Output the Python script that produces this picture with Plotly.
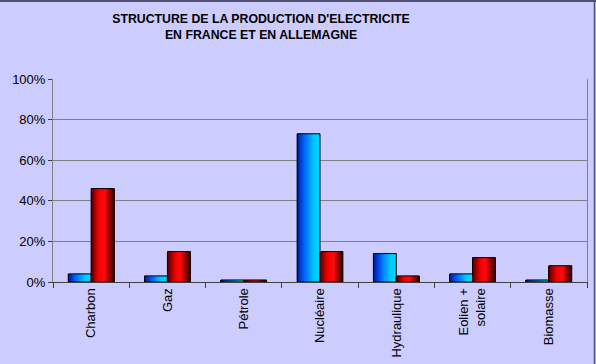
import plotly.graph_objects as go

categories = ["Charbon", "Gaz", "Pétrole", "Nucléaire", "Hydraulique", "Eolien +<br>solaire", "Biomasse"]
france = [0.04, 0.03, 0.01, 0.73, 0.14, 0.04, 0.01]
allemagne = [0.46, 0.15, 0.01, 0.15, 0.03, 0.12, 0.08]
y_ticks = [0, 0.2, 0.4, 0.6, 0.8, 1.0]
y_tick_labels = ["0%", "20%", "40%", "60%", "80%", "100%"]

W, H = 596, 364
ml, mr, mt, mb = 53, 9, 79, 82
pw, ph = W - ml - mr, H - mt - mb

BAR_W = 0.30
N = 24


def lerp(stops, t):
    for (t0, c0), (t1, c1) in zip(stops, stops[1:]):
        if t0 <= t <= t1:
            f = (t - t0) / (t1 - t0) if t1 > t0 else 0
            c = [round(a + (b - a) * f) for a, b in zip(c0, c1)]
            return "rgb(%d,%d,%d)" % tuple(c)
    return "rgb(%d,%d,%d)" % stops[-1][1]


blue_stops = [(0.0, (0, 20, 150)), (0.35, (0, 100, 255)), (0.75, (0, 200, 255)), (1.0, (0, 215, 255))]
red_stops = [(0.0, (70, 0, 0)), (0.35, (240, 0, 0)), (0.6, (255, 10, 10)), (1.0, (60, 0, 0))]

fig = go.Figure()
for series, base_off, stops in [(france, -BAR_W, blue_stops), (allemagne, 0.0, red_stops)]:
    for i in range(N):
        t = (i + 0.5) / N
        fig.add_trace(go.Bar(
            x=categories, y=series,
            width=BAR_W / N + (0.01 if i < N - 1 else 0), offset=base_off + i * BAR_W / N,
            marker=dict(color=lerp(stops, t), line=dict(width=0)),
            hoverinfo="skip", showlegend=False))
    fig.add_trace(go.Bar(
        x=categories, y=series, width=BAR_W, offset=base_off,
        marker=dict(color="rgba(0,0,0,0)", line=dict(color="#000000", width=1)),
        showlegend=False))

fig.update_layout(
    width=W, height=H,
    margin=dict(l=ml, r=mr, t=mt, b=mb),
    paper_bgcolor="#CCCCFF", plot_bgcolor="#CCCCFF",
    barmode="overlay",
    showlegend=False,
    font=dict(family="Liberation Sans, Arial", size=13, color="#000000"),
    title=dict(text="<b>STRUCTURE DE LA PRODUCTION D'ELECTRICITE<br>EN FRANCE ET EN ALLEMAGNE</b>",
               xref="container", x=261 / W, xanchor="center", y=0.937, yanchor="top",
               font=dict(size=12.3, color="#000000")),
    xaxis=dict(tickangle=-90, tickson="boundaries", ticks="outside", ticklen=5,
               tickcolor="#404040", showline=True, linecolor="#404040", linewidth=1,
               mirror=False, showgrid=False, tickfont=dict(size=13), automargin=False),
    yaxis=dict(range=[0, 1.0], tickvals=y_ticks, ticktext=y_tick_labels,
               ticks="outside", ticklen=4, tickcolor="#404040",
               showline=True, linecolor="#808080", mirror=True,
               showgrid=True, gridcolor="#808080", gridwidth=1,
               zeroline=False, tickfont=dict(size=13), automargin=False),
    shapes=[
        dict(type="line", xref="paper", yref="paper",
             x0=-ml / pw, x1=1 + mr / pw, y0=1 + (mt - 1) / ph, y1=1 + (mt - 1) / ph,
             line=dict(color="#505070", width=2), layer="above"),
        dict(type="line", xref="paper", yref="paper",
             x0=1 + (mr - 1.5) / pw, x1=1 + (mr - 1.5) / pw, y0=-mb / ph, y1=1 + mt / ph,
             line=dict(color="#505070", width=1.5), layer="above"),
    ],
)

fig.write_html("out.html", config={"displayModeBar": False},
               post_script="document.body.style.margin='0';document.body.style.padding='0';")
